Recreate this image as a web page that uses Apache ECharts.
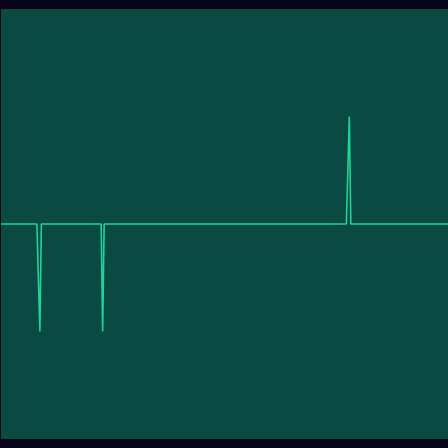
<!DOCTYPE html>
<html>
<head>
<meta charset="utf-8">
<script src="https://cdn.jsdelivr.net/npm/echarts@6/dist/echarts.min.js"></script>
<style>
  html, body { margin: 0; padding: 0; background: #08041a; }
  #chart { width: 448px; height: 448px; }
</style>
</head>
<body>
<div id="chart"></div>
<script>
// signal is flat at 0 apart from three one-sample spikes
const sampleCount = 300;
const spikeIndex = [26, 68, 233];
const spikeValue = [-1, -1, 1];

const signal = new Array(sampleCount).fill(0);
spikeIndex.forEach((idx, i) => { signal[idx] = spikeValue[i]; });

const chart = echarts.init(document.getElementById("chart"));
chart.setOption({
  backgroundColor: "#08041a",
  animation: false,
  grid: {
    left: 1, right: 0, top: 9, bottom: 9,
    show: true,
    backgroundColor: "#0a4a43",
    borderWidth: 0,
  },
  xAxis: {
    type: "category",
    boundaryGap: false,
    data: signal.map((_, i) => i),
    show: false,
  },
  yAxis: {
    type: "value",
    min: -2,
    max: 2,
    show: false,
  },
  series: [
    {
      type: "line",
      data: signal,
      symbol: "none",
      sampling: false,
      lineStyle: { color: "#22d49a", width: 1.6 },
    },
  ],
});
</script>
</body>
</html>
